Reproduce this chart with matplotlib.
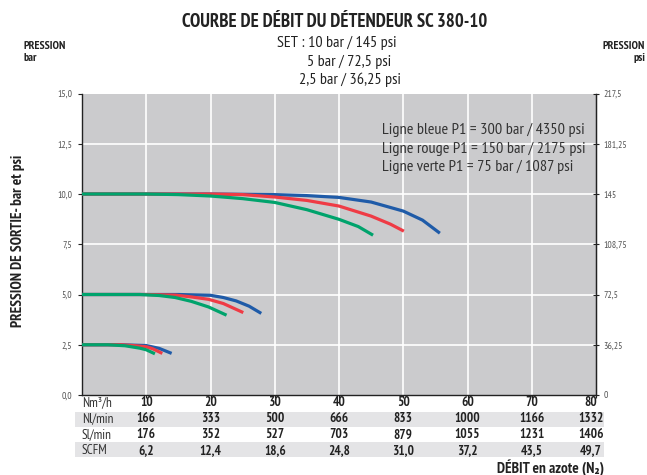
import matplotlib
matplotlib.use("Agg")
import matplotlib.pyplot as plt
from matplotlib.transforms import blended_transform_factory
from matplotlib.patches import Rectangle

plt.rcParams['font.family'] = ['PT Sans Narrow', 'Roboto Condensed', 'Liberation Sans Narrow',
                               'Roboto', 'DejaVu Sans']

# ---- data ----
blue10_x = [0, 10, 20, 30, 35, 40, 45, 50, 53, 55.7]
blue10_y = [10, 10, 10, 9.97, 9.92, 9.83, 9.6, 9.15, 8.7, 8.05]
red10_x = [0, 10, 20, 25, 30, 35, 40, 45, 48, 50.1]
red10_y = [10, 10, 10, 9.97, 9.85, 9.68, 9.4, 8.9, 8.5, 8.15]
green10_x = [0, 10, 15, 20, 25, 30, 35, 40, 43, 45.3]
green10_y = [10, 10, 9.97, 9.9, 9.77, 9.58, 9.22, 8.74, 8.38, 7.95]

blue5_x = [0, 10, 15, 20, 22, 24, 26, 27.9]
blue5_y = [5, 5, 5, 4.96, 4.85, 4.68, 4.42, 4.06]
red5_x = [0, 10, 14.5, 17, 19.7, 22, 25.1]
red5_y = [5, 5, 4.97, 4.88, 4.76, 4.55, 4.1]
green5_x = [0, 9, 12, 14.5, 17, 19.7, 22.5]
green5_y = [5, 5, 4.95, 4.85, 4.66, 4.38, 3.97]

blue25_x = [0, 6, 10, 12, 13.95]
blue25_y = [2.5, 2.5, 2.46, 2.32, 2.07]
red25_x = [0, 6, 8, 10, 11, 12.5]
red25_y = [2.5, 2.5, 2.46, 2.4, 2.3, 2.07]
green25_x = [0, 4, 6.7, 9, 10, 11.35]
green25_y = [2.5, 2.5, 2.45, 2.33, 2.25, 2.05]

flow_ticks = [10, 20, 30, 40, 50, 60, 70, 80]
row_labels = ['Nm³/h', 'Nl/min', 'Sl/min', 'SCFM']
nm3h = ['10', '20', '30', '40', '50', '60', '70', '80']
nlmin = ['166', '333', '500', '666', '833', '1000', '1166', '1332']
slmin = ['176', '352', '527', '703', '879', '1055', '1231', '1406']
scfm = ['6,2', '12,4', '18,6', '24,8', '31,0', '37,2', '43,5', '49,7']
bar_ticks = [0, 2.5, 5, 7.5, 10, 12.5, 15]
bar_labels = ['0,0', '2,5', '5,0', '7,5', '10,0', '12,5', '15,0']
psi_labels = ['0', '36,25', '72,5', '108,75', '145', '181,25', '217,5']

BLUE = '#1f5ba8'
RED = '#ef3b45'
GREEN = '#00a36c'
W, H = 647, 475

fig = plt.figure(figsize=(W / 100, H / 100), dpi=100)
ax = fig.add_axes([82 / W, 1 - 395 / H, (596 - 82) / W, (395 - 93.5) / H])
ax.set_facecolor('#cbcbcd')
ax.set_xlim(0, 80)
ax.set_ylim(0, 15)

for xv in flow_ticks[:-1]:
    ax.axvline(xv, color='white', lw=1.2, zorder=1)
for yv in bar_ticks[1:-1]:
    ax.axhline(yv, color='white', lw=1.2, zorder=1)

lw = 2.3
for xs, ys, c in [(blue10_x, blue10_y, BLUE), (red10_x, red10_y, RED), (green10_x, green10_y, GREEN),
                  (blue5_x, blue5_y, BLUE), (red5_x, red5_y, RED), (green5_x, green5_y, GREEN),
                  (blue25_x, blue25_y, BLUE), (red25_x, red25_y, RED), (green25_x, green25_y, GREEN)]:
    ax.plot(xs, ys, color=c, lw=lw, solid_capstyle='butt', solid_joinstyle='round', zorder=3)

ax.spines['top'].set_visible(False)
for s in ['left', 'right', 'bottom']:
    ax.spines[s].set_color('#222222')
    ax.spines[s].set_linewidth(1.0)

ax.set_xticks(flow_ticks)
ax.set_xticklabels([])
ax.tick_params(axis='x', direction='out', length=2.5, color='#222222')
ax.set_yticks(bar_ticks)
ax.set_yticklabels(bar_labels)
ax.tick_params(axis='y', direction='out', length=3, color='#222222', labelsize=7,
               labelcolor='#555555', pad=4)

ax2 = ax.twinx()
ax2.set_ylim(0, 15)
ax2.set_yticks(bar_ticks)
ax2.set_yticklabels(psi_labels)
ax2.tick_params(axis='y', direction='inout', length=5, color='#222222', labelsize=7,
                labelcolor='#555555', pad=3)
for s in ['top', 'left', 'bottom']:
    ax2.spines[s].set_visible(False)
ax2.spines['right'].set_color('#222222')

# annotation
ann = ['Ligne bleue P1 = 300 bar / 4350 psi',
       'Ligne rouge P1 = 150 bar / 2175 psi',
       'Ligne verte P1 = 75 bar / 1087 psi']
for i, t in enumerate(ann):
    fig.text(382 / W, 1 - (130 + i * 18.5) / H, t, ha='left', va='center',
             fontsize=11.7, color='#333333')

# titles
fig.text(335 / W, 1 - 22 / H, 'COURBE DE DÉBIT DU DÉTENDEUR SC 380-10', ha='center',
         va='center', fontsize=13.5, fontweight='bold', color='#222222')
fig.text(277 / W, 1 - 43 / H, 'SET : 10 bar / 145 psi', ha='left', va='center',
         fontsize=11.6, color='#222222')
fig.text(307 / W, 1 - 62 / H, '5 bar / 72,5 psi', ha='left', va='center',
         fontsize=11.6, color='#222222')
fig.text(299 / W, 1 - 80 / H, '2,5 bar / 36,25 psi', ha='left', va='center',
         fontsize=11.6, color='#222222')

fig.text(23 / W, 1 - 46 / H, 'PRESSION', ha='left', va='center', fontsize=8.5,
         fontweight='bold', color='#222222')
fig.text(23 / W, 1 - 58 / H, 'bar', ha='left', va='center', fontsize=8.5,
         fontweight='bold', color='#222222')
fig.text(645 / W, 1 - 46 / H, 'PRESSION', ha='right', va='center', fontsize=8.5,
         fontweight='bold', color='#222222')
fig.text(645 / W, 1 - 58 / H, 'psi', ha='right', va='center', fontsize=8.5,
         fontweight='bold', color='#222222')

fig.text(18 / W, 1 - 241 / H, 'PRESSION DE SORTIE- bar et psi', ha='center', va='center',
         rotation=90, fontsize=11, fontweight='bold', color='#222222')

# table
trans = blended_transform_factory(ax.transData, fig.transFigure)
for y0, y1 in [(412, 426.5), (442, 457)]:
    fig.patches.append(Rectangle((75 / W, 1 - y1 / H), (604 - 75) / W, (y1 - y0) / H,
                                 transform=fig.transFigure, facecolor='#e4e4e6',
                                 edgecolor='none', zorder=-5))
row_y = [402.5, 419, 435, 451]
rows = [nm3h, nlmin, slmin, scfm]
for lab, ry, vals in zip(row_labels, row_y, rows):
    fig.text(82 / W, 1 - ry / H, lab, ha='left', va='center', fontsize=9.5,
             color='#333333', zorder=5)
    for xv, v in zip(flow_ticks, vals):
        xpos = xv if xv < 80 else 79.2
        ax.text(xpos, 1 - ry / H, v, transform=trans, ha='center', va='center',
                fontsize=9.5, fontweight='bold', color='#222222', zorder=5)

fig.text(604 / W, 1 - 468 / H, 'DÉBIT en azote (N₂)', ha='right', va='center',
         fontsize=11, fontweight='bold', color='#222222')

fig.savefig('out.png', dpi=100)
